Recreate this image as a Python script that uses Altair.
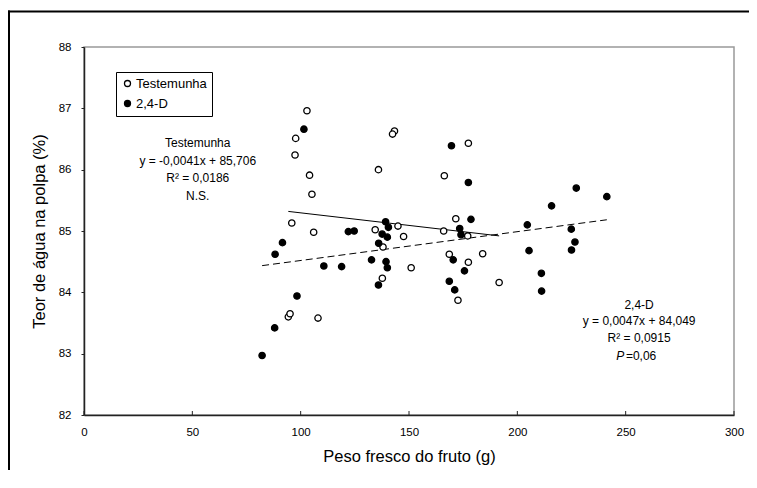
import altair as alt
import pandas as pd

# --- data ---
test_x = [102.9, 97.7, 97.4, 104.1, 105.2, 95.9, 106.0, 94.3, 95.1, 108.0,
          143.3, 142.4, 135.9, 134.4, 144.9, 147.5, 138.0, 151.0, 137.7,
          166.3, 177.4, 166.0, 171.6, 168.6, 172.6, 177.4, 177.1, 184.0, 191.6]
test_y = [86.96, 86.51, 86.24, 85.91, 85.60, 85.13, 84.98, 83.60, 83.65, 83.58,
          86.63, 86.58, 86.00, 85.02, 85.08, 84.91, 84.74, 84.40, 84.23,
          85.90, 86.43, 85.00, 85.20, 84.62, 83.87, 84.49, 84.92, 84.63, 84.16]

d_x = [82.2, 101.5, 91.6, 88.2, 98.3, 88.0, 110.7, 118.9, 122.0, 124.7,
       139.2, 140.5, 137.6, 140.0, 136.0, 132.7, 139.4, 140.0, 135.9,
       169.6, 177.4, 178.6, 173.4, 174.0, 170.4, 175.6, 168.6, 171.1,
       204.6, 205.4, 211.1, 211.2, 215.8, 227.2, 224.9, 226.6, 225.0, 241.3]
d_y = [82.97, 86.66, 84.81, 84.62, 83.94, 83.42, 84.43, 84.42, 84.99, 85.00,
       85.15, 85.06, 84.95, 84.90, 84.80, 84.53, 84.50, 84.40, 84.12,
       86.39, 85.79, 85.19, 85.04, 84.94, 84.53, 84.35, 84.18, 84.04,
       85.10, 84.68, 84.31, 84.02, 85.41, 85.70, 85.03, 84.82, 84.69, 85.56]

groups = ["Testemunha", "2,4-D"]
slopes = [-0.0041, 0.0047]
intercepts = [85.706, 84.049]
x_ticks = [0, 50, 100, 150, 200, 250, 300]
y_ticks = [82, 83, 84, 85, 86, 87, 88]

FONT = "Liberation Sans"

pts = pd.DataFrame({
    "x": test_x + d_x,
    "y": test_y + d_y,
    "grupo": [groups[0]] * len(test_x) + [groups[1]] * len(d_x),
})

rows = []
for g, xs, m, b in zip(groups, [test_x, d_x], slopes, intercepts):
    for xv in (min(xs), max(xs)):
        rows.append({"grupo": g, "x": xv, "y": m * xv + b})
lines = pd.DataFrame(rows)
ticks_df = pd.DataFrame({"t": x_ticks})

xscale = alt.Scale(domain=[0, 300], nice=False, zero=False)
yscale = alt.Scale(domain=[82, 88], nice=False, zero=False)

xaxis = alt.Axis(values=x_ticks, format="d", title="Peso fresco do fruto (g)", grid=False,
                 ticks=False, labelPadding=11, titlePadding=11,
                 domainColor="#222", domainWidth=1.5, labelFontSize=11.5,
                 titleFontSize=16.5, titleFontWeight="normal", labelFont=FONT,
                 titleFont=FONT, labelColor="black", titleColor="black",
                 labelFlush=False)
yaxis = alt.Axis(values=y_ticks, format="d", title="Teor de água na polpa (%)", grid=False,
                 tickSize=3, tickColor="#222", labelPadding=10, titlePadding=11,
                 domainColor="#222", domainWidth=1.5, labelFontSize=11.5,
                 titleFontSize=16.5, titleFontWeight="normal", labelFont=FONT,
                 titleFont=FONT, labelColor="black", titleColor="black",
                 labelFlush=False)

points = alt.Chart(pts).mark_point(
    shape="circle", filled=True, stroke="black", strokeWidth=1.3, size=40, opacity=1
).encode(
    x=alt.X("x:Q", scale=xscale, axis=xaxis),
    y=alt.Y("y:Q", scale=yscale, axis=yaxis),
    fill=alt.Fill("grupo:N", scale=alt.Scale(domain=groups, range=["white", "black"]),
                  legend=alt.Legend(orient="none", legendX=32, legendY=25, title=None,
                                    strokeColor="black", fillColor="white", padding=5,
                                    labelFont=FONT, labelFontSize=13, labelColor="black",
                                    symbolSize=36, symbolStrokeColor="black",
                                    symbolStrokeWidth=1.3, symbolType="circle",
                                    rowPadding=6, labelOffset=2)),
)

line_t = alt.Chart(lines).transform_filter(alt.datum.grupo == groups[0]).mark_line(
    color="black", strokeWidth=1
).encode(x=alt.X("x:Q", scale=xscale), y=alt.Y("y:Q", scale=yscale))

line_d = alt.Chart(lines).transform_filter(alt.datum.grupo == groups[1]).mark_line(
    color="black", strokeWidth=1, strokeDash=[7, 4]
).encode(x=alt.X("x:Q", scale=xscale), y=alt.Y("y:Q", scale=yscale))

xt = alt.Chart(ticks_df).mark_rule(color="#222", strokeWidth=1).encode(
    x=alt.X("t:Q", scale=xscale), y=alt.value(368), y2=alt.value(364))


def label(txt, xv, yv, align="center", italic=False):
    return alt.Chart(pd.DataFrame({"a": [0]})).mark_text(
        text=txt, font=FONT, fontSize=12, color="black", align=align,
        baseline="middle", fontStyle="italic" if italic else "normal"
    ).encode(x=alt.datum(xv, scale=xscale), y=alt.datum(yv, scale=yscale))


annots = [
    label("Testemunha", 52.5, 86.43),
    label("y = -0,0041x + 85,706", 52.5, 86.146),
    label("R² = 0,0186", 52.5, 85.864),
    label("N.S.", 52.5, 85.571),
    label("2,4-D", 256.2, 83.793),
    label("y = 0,0047x + 84,049", 256.2, 83.532),
    label("R² = 0,0915", 256.2, 83.25),
    label("P", 249.3, 82.962, align="right", italic=True),
    label("=0,06", 250.1, 82.962, align="left"),
]

# outer frame of the figure: left and top edges
frame_v = alt.Chart(pd.DataFrame({"a": [0]})).mark_rule(color="black", strokeWidth=2).encode(
    x=alt.value(-75), x2=alt.value(-75), y=alt.value(-36.5), y2=alt.value(423))
frame_h = alt.Chart(pd.DataFrame({"a": [0]})).mark_rule(color="black", strokeWidth=2).encode(
    x=alt.value(-76), x2=alt.value(665), y=alt.value(-35.5), y2=alt.value(-35.5))

chart = alt.layer(frame_v, frame_h, line_t, line_d, xt, points, *annots).properties(
    width=650, height=368,
    autosize=alt.AutoSizeParams(type="none"),
    padding={"left": 76, "top": 39, "right": 15, "bottom": 55},
    background="white",
).configure_view(stroke="#999", strokeWidth=1.5)

chart.save("out.html", embed_options={"renderer": "svg", "actions": False})
